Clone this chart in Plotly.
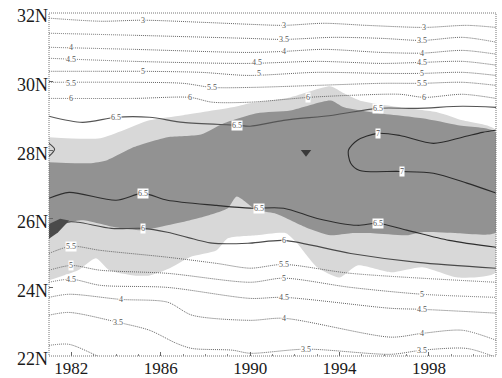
import plotly.graph_objects as go

# ---------------- data (year, latitude) ----------------
# shaded regions
light_top_x = [1981, 1983.3, 1985.5, 1987.0, 1989.2, 1990.0, 1991.8, 1993.6, 1994.2, 1994.9, 1996.7, 1998.4, 1999.5, 2001]
light_top_y = [28.38, 28.35, 28.87, 29.02, 29.25, 29.37, 29.54, 29.86, 29.66, 29.45, 29.25, 29.10, 28.87, 28.58]
light_bot_x = [1981, 1982.3, 1983.1, 1983.7, 1984.8, 1985.5, 1986.4, 1987.3, 1988.5, 1989.0, 1990.3, 1991.6, 1992.1, 1993.0, 1994.0, 1994.8, 1996.3, 1997.7, 1999.3, 2001]
light_bot_y = [24.21, 24.50, 24.85, 24.50, 24.35, 24.35, 24.56, 24.88, 25.08, 25.43, 25.52, 25.58, 25.29, 24.59, 24.29, 24.64, 24.44, 24.59, 24.29, 24.44]
dark_top_x = [1981, 1982.8, 1983.6, 1984.8, 1986.3, 1987.8, 1988.8, 1990.3, 1991.8, 1993.6, 1994.2, 1995.5, 1997.7, 1999.3, 2001]
dark_top_y = [27.65, 27.62, 27.71, 28.09, 28.38, 28.46, 28.78, 29.08, 29.16, 29.45, 29.25, 29.10, 28.93, 28.73, 28.52]
dark_bot_x = [1981, 1981.8, 1982.5, 1984.0, 1985.2, 1986.3, 1987.8, 1989.0, 1989.4, 1990.3, 1991.1, 1992.5, 1993.6, 1994.5, 1995.5, 1997.0, 1997.7, 1999.3, 2001]
dark_bot_y = [25.43, 25.87, 25.96, 25.75, 25.67, 25.81, 26.04, 26.31, 26.65, 26.25, 26.16, 25.75, 25.52, 25.58, 25.58, 25.52, 25.61, 25.58, 25.61]
darkest_x = [1981, 1981.5, 1981.9, 1981.4, 1981]
darkest_y = [25.85, 26.0, 25.95, 25.6, 25.42]

# contour lines (north side)
c30n_x = [1981, 1983.3, 1985.2, 1987.8, 1990.0, 1991.5, 1993.3, 1995.2, 1997.8, 1999.7, 2001]
c30n_y = [31.85, 31.76, 31.79, 31.73, 31.67, 31.64, 31.70, 31.64, 31.58, 31.64, 31.58]
c35n_x = [1981, 1984.8, 1989.9, 1991.5, 1993.7, 1995.9, 1997.7, 1999.5, 2001]
c35n_y = [31.41, 31.35, 31.26, 31.23, 31.29, 31.26, 31.20, 31.29, 31.15]
c40n_x = [1981, 1984.8, 1989.9, 1991.5, 1993.3, 1995.9, 1997.7, 1999.5, 2001]
c40n_y = [31.00, 30.94, 30.85, 30.88, 30.94, 30.85, 30.83, 30.91, 30.80]
c45n_x = [1981, 1984.8, 1989.9, 1993.0, 1995.9, 1997.7, 1999.5, 2001]
c45n_y = [30.68, 30.59, 30.53, 30.59, 30.53, 30.56, 30.59, 30.48]
c50n_x = [1981, 1983.3, 1985.2, 1987.8, 1989.9, 1993.0, 1995.9, 1997.7, 1999.5, 2001]
c50n_y = [30.30, 30.30, 30.30, 30.27, 30.18, 30.27, 30.24, 30.24, 30.27, 30.18]
c55n_x = [1981, 1984.8, 1987.0, 1988.3, 1990.0, 1993.0, 1995.9, 1997.7, 1999.5, 2001]
c55n_y = [29.98, 29.98, 29.95, 29.83, 29.83, 29.89, 29.95, 29.95, 29.98, 29.89]
c60n_x = [1981, 1984.8, 1987.3, 1988.3, 1990.0, 1992.6, 1994.5, 1996.7, 1997.8, 1999.5, 2001]
c60n_y = [29.51, 29.51, 29.54, 29.40, 29.40, 29.54, 29.60, 29.63, 29.54, 29.63, 29.51]
c65n_x = [1981, 1982.5, 1984.0, 1985.5, 1987.0, 1989.4, 1990.0, 1991.5, 1993.7, 1995.7, 1997.5, 1999.5, 2001]
c65n_y = [28.99, 28.81, 28.96, 28.96, 28.81, 28.73, 28.70, 28.87, 29.02, 29.22, 29.22, 29.28, 29.25]
c70_x = [2001, 2000.4, 1999.5, 1998.2, 1996.7, 1995.7, 1994.8, 1994.4, 1994.5, 1994.9, 1996.7, 1998.2, 1999.7, 2001]
c70_y = [28.58, 28.52, 28.38, 28.20, 28.43, 28.49, 28.29, 28.00, 27.62, 27.41, 27.38, 27.33, 27.04, 26.75]
c70w_x = [1981, 1981.25, 1981]
c70w_y = [28.20, 28.03, 27.82]

# contour lines (south side)
c65s_x = [1981, 1981.9, 1984.0, 1985.2, 1986.3, 1988.5, 1990.0, 1991.5, 1993.0, 1994.8, 1995.7, 1997.0, 1998.9, 2001]
c65s_y = [26.60, 26.77, 26.54, 26.74, 26.54, 26.39, 26.31, 26.31, 26.01, 25.81, 25.87, 25.67, 25.37, 25.17]
c60s_x = [1981, 1981.8, 1982.3, 1983.8, 1985.2, 1986.3, 1988.3, 1990.0, 1991.5, 1994.5, 1997.5, 2001]
c60s_y = [25.46, 25.90, 25.90, 25.72, 25.72, 25.61, 25.29, 25.29, 25.37, 24.99, 24.73, 24.56]
c55s_x = [1981, 1982.0, 1983.3, 1986.3, 1988.5, 1990.0, 1991.5, 1994.5, 2001]
c55s_y = [24.99, 25.20, 25.08, 24.88, 24.70, 24.56, 24.67, 24.41, 24.15]
c50s_x = [1981, 1982.0, 1983.3, 1986.3, 1990.0, 1991.5, 1994.5, 1997.7, 2001]
c50s_y = [24.50, 24.64, 24.50, 24.41, 24.15, 24.27, 24.00, 23.80, 23.71]
c45s_x = [1981, 1982.0, 1983.3, 1986.3, 1990.0, 1991.5, 1996.3, 1997.7, 2001]
c45s_y = [24.15, 24.24, 24.06, 24.00, 23.68, 23.71, 23.39, 23.36, 23.25]
c40s_x = [1981, 1981.9, 1984.2, 1986.3, 1987.4, 1990.0, 1991.5, 1996.3, 1997.7, 1999.5, 2001]
c40s_y = [23.71, 23.80, 23.65, 23.57, 23.19, 23.04, 23.10, 22.55, 22.66, 22.75, 22.46]
c35s_x = [1981, 1981.9, 1984.1, 1985.5, 1986.7, 1987.4, 1989.2, 1990.0, 1992.5, 1996.3, 1997.7, 1999.7, 2001]
c35s_y = [23.19, 23.27, 22.98, 22.75, 22.37, 22.22, 22.17, 22.08, 22.20, 22.05, 22.17, 22.22, 21.96]
c30s_x = [1981, 1981.9, 1983.1, 1983.5]
c30s_y = [22.31, 22.34, 22.02, 21.90]

# contour labels
lab_x = [1985.2, 1991.5, 1997.8, 1991.5, 1997.7, 1982.0, 1991.5, 1997.7, 1982.0, 1990.3, 1997.7,
         1985.2, 1990.4, 1997.7, 1982.0, 1988.3, 1997.7, 1982.0, 1987.3, 1992.6, 1997.8,
         1984.0, 1989.4, 1995.7, 1995.7, 1996.8,
         1985.2, 1990.4, 1995.7, 1985.2, 1991.5, 1982.0, 1991.5, 1982.0, 1991.5, 1997.7,
         1982.0, 1991.5, 1997.7, 1984.2, 1991.5, 1997.7, 1984.1, 1992.5, 1997.7]
lab_y = [31.79, 31.64, 31.58, 31.23, 31.20, 31.00, 30.88, 30.83, 30.65, 30.56, 30.56,
         30.30, 30.24, 30.24, 29.95, 29.83, 29.95, 29.51, 29.54, 29.54, 29.54,
         28.96, 28.73, 29.22, 28.49, 27.38,
         26.74, 26.31, 25.87, 25.72, 25.37, 25.20, 24.67, 24.64, 24.26, 23.80,
         24.24, 23.71, 23.36, 23.65, 23.10, 22.66, 22.98, 22.20, 22.17]
lab_t = ["3", "3", "3", "3.5", "3.5", "4", "4", "4", "4.5", "4.5", "4.5",
         "5", "5", "5", "5.5", "5.5", "5.5", "6", "6", "6", "6",
         "6.5", "6.5", "6.5", "7", "7",
         "6.5", "6.5", "6.5", "6", "6", "5.5", "5.5", "5", "5", "5",
         "4.5", "4.5", "4.5", "4", "4", "4", "3.5", "3.5", "3.5"]

marker_x = [1992.5]
marker_y = [27.94]

x_ticks = [1982, 1986, 1990, 1994, 1998]
y_ticks = [22, 24, 26, 28, 30, 32]
y_labels = ["22N", "24N", "26N", "28N", "30N", "32N"]

# ---------------- figure ----------------
fig = go.Figure()

def poly(tx, ty, bx, by, color):
    fig.add_trace(go.Scatter(
        x=list(tx) + list(bx)[::-1], y=list(ty) + list(by)[::-1],
        mode="lines", fill="toself", fillcolor=color,
        line=dict(width=0, shape="spline", smoothing=0.6),
        hoverinfo="skip", showlegend=False))

poly(light_top_x, light_top_y, light_bot_x, light_bot_y, "#d8d8d8")
poly(dark_top_x, dark_top_y, dark_bot_x, dark_bot_y, "#929292")
fig.add_trace(go.Scatter(x=darkest_x, y=darkest_y, mode="lines", fill="toself",
                         fillcolor="#4a4a4a", line=dict(width=0), hoverinfo="skip",
                         showlegend=False))

dotted = [(c30n_x, c30n_y), (c35n_x, c35n_y), (c40n_x, c40n_y), (c45n_x, c45n_y),
          (c50n_x, c50n_y), (c55n_x, c55n_y), (c60n_x, c60n_y),
          (c55s_x, c55s_y), (c50s_x, c50s_y), (c45s_x, c45s_y), (c40s_x, c40s_y),
          (c35s_x, c35s_y), (c30s_x, c30s_y)]
for xs, ys in dotted:
    fig.add_trace(go.Scatter(x=xs, y=ys, mode="lines",
                             line=dict(color="#666666", width=1, dash="1px,1px",
                                       shape="spline", smoothing=0.8),
                             hoverinfo="skip", showlegend=False))

solid = [(c65n_x, c65n_y, "#555555"), (c65s_x, c65s_y, "#2e2e2e"),
         (c60s_x, c60s_y, "#4a4a4a"), (c70_x, c70_y, "#2a2a2a"),
         (c70w_x, c70w_y, "#444444")]
for xs, ys, col in solid:
    fig.add_trace(go.Scatter(x=xs, y=ys, mode="lines",
                             line=dict(color=col, width=1.1,
                                       shape="spline", smoothing=0.8),
                             hoverinfo="skip", showlegend=False))

fig.add_trace(go.Scatter(x=marker_x, y=marker_y, mode="markers",
                         marker=dict(symbol="triangle-down", size=9, color="#3a3a3a"),
                         hoverinfo="skip", showlegend=False))

for x, y, t in zip(lab_x, lab_y, lab_t):
    fig.add_annotation(x=x, y=y, text=t, showarrow=False,
                       font=dict(family="Liberation Serif", size=8, color="#555555"),
                       bgcolor="white", borderpad=0)

fig.add_shape(type="rect", xref="paper", yref="paper", x0=0, y0=0, x1=1, y1=1,
              line=dict(color="#777777", width=1, dash="1px,1px"), layer="above")

fig.update_layout(
    width=502, height=378, autosize=False,
    margin=dict(l=49, r=6, t=13, b=22),
    paper_bgcolor="white", plot_bgcolor="white",
    font=dict(family="Liberation Serif", size=18, color="#1a1a1a"),
    xaxis=dict(range=[1981, 2001], tickvals=x_ticks, ticks="inside", ticklen=4,
               tickcolor="#666666", showgrid=False, zeroline=False, showline=False,
               tickfont=dict(size=17), automargin=False, ticklabeloverflow="allow",
               minor=dict(dtick=1, ticks="inside", ticklen=2, tickcolor="#888888")),
    yaxis=dict(range=[22, 32], tickvals=y_ticks, ticktext=y_labels, ticks="inside",
               ticklen=4, tickcolor="#666666", showgrid=False, zeroline=False,
               showline=False, automargin=False, ticklabelshift=3,
               ticklabeloverflow="allow"),
)

# remove the browser's default 8px page margin so the figure sits at the window origin
fig.write_html("out.html", config={"displayModeBar": False},
               post_script="document.body.style.margin='0';document.body.style.overflow='hidden';")
